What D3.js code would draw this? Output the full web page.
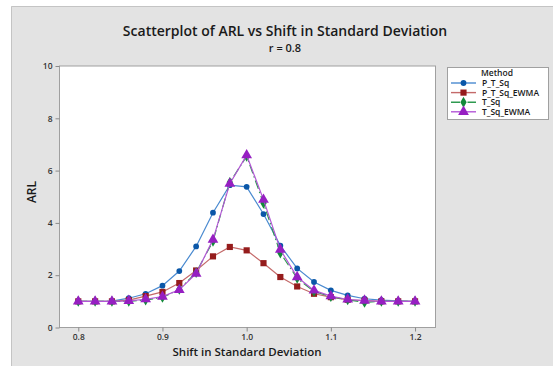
<!DOCTYPE html>
<html>
<head>
<meta charset="utf-8">
<script src="https://cdn.jsdelivr.net/npm/d3@7"></script>
<style>
  html, body { margin: 0; padding: 0; background: #ffffff; }
  svg { display: block; font-family: "Open Sans", "Noto Sans", sans-serif; }
</style>
</head>
<body>
<svg id="chart" width="553" height="366"></svg>
<script>
// Shift in standard deviation (x values)
const shifts = [0.80, 0.82, 0.84, 0.86, 0.88, 0.90, 0.92, 0.94, 0.96, 0.98, 1.00,
                1.02, 1.04, 1.06, 1.08, 1.10, 1.12, 1.14, 1.16, 1.18, 1.20];

// ARL per method
const pTSq      = [1.00, 1.00, 1.01, 1.12, 1.29, 1.60, 2.16, 3.10, 4.39, 5.44, 5.38,
                   4.34, 3.13, 2.26, 1.74, 1.42, 1.23, 1.10, 1.05, 1.02, 1.00];
const pTSqEwma  = [1.00, 1.00, 1.00, 1.05, 1.20, 1.36, 1.70, 2.18, 2.72, 3.08, 2.95,
                   2.46, 1.93, 1.57, 1.29, 1.16, 1.06, 1.03, 1.00, 1.00, 1.00];
const tSq       = [1.00, 1.00, 1.00, 1.00, 1.05, 1.15, 1.46, 2.10, 3.30, 5.55, 6.55,
                   4.75, 2.85, 1.88, 1.38, 1.18, 1.06, 0.96, 1.00, 1.00, 1.00];
const tSqEwma   = [1.00, 1.00, 1.00, 1.02, 1.08, 1.18, 1.44, 2.06, 3.36, 5.50, 6.59,
                   4.89, 2.98, 1.93, 1.42, 1.20, 1.07, 1.03, 1.00, 1.00, 1.00];

const methodNames = ["P_T_Sq", "P_T_Sq_EWMA", "T_Sq", "T_Sq_EWMA"];
const xTicks = [0.8, 0.9, 1.0, 1.1, 1.2];
const yTicks = [0, 2, 4, 6, 8, 10];

const series = [
  { name: methodNames[0], values: pTSq,     marker: "circle",   fill: "#0a57a8", line: "#4a8ad0", dash: null },
  { name: methodNames[1], values: pTSqEwma, marker: "square",   fill: "#951c1c", line: "#c46a6a", dash: null },
  { name: methodNames[2], values: tSq,      marker: "diamond",  fill: "#138a3a", line: "#2e9a50", dash: "9,3,1.5,3" },
  { name: methodNames[3], values: tSqEwma,  marker: "triangle", fill: "#961fc2", line: "#b356d6", dash: null }
];

const svg = d3.select("#chart");

// Figure panel
svg.append("rect").attr("x", 11).attr("y", 6).attr("width", 553 - 11).attr("height", 366 - 6)
  .attr("fill", "#e3e3e3");
svg.append("path").attr("d", "M11.5,366 V6.5 H553").attr("fill", "none").attr("stroke", "#c4c4c4");

// Plot region
const frame = { left: 59.5, right: 435.5, top: 66, bottom: 327.5 };
const x = d3.scaleLinear().domain([0.7777, 1.2243]).range([frame.left, frame.right]);
const y = d3.scaleLinear().domain([0, 10]).range([frame.bottom, frame.top]);

svg.append("rect")
  .attr("x", frame.left).attr("y", frame.top)
  .attr("width", frame.right - frame.left).attr("height", frame.bottom - frame.top)
  .attr("fill", "#ffffff").attr("stroke", "#a0a0a0").attr("stroke-width", 1);

// Axes
const xAxis = d3.axisBottom(x).tickValues(xTicks).tickSize(4).tickPadding(2)
  .tickFormat(d3.format(".1f"));
const gx = svg.append("g").attr("transform", `translate(0,${frame.bottom})`).call(xAxis);
const yAxis = d3.axisLeft(y).tickValues(yTicks).tickSize(4).tickPadding(3);
const gy = svg.append("g").attr("transform", `translate(${frame.left},0)`).call(yAxis);
[gx, gy].forEach(g => {
  g.select(".domain").remove();
  g.selectAll(".tick line").attr("stroke", "#8a8a8a");
  g.selectAll(".tick text").attr("fill", "#333333").attr("font-size", 8.5)
    .attr("font-weight", 600).attr("font-family", "'Open Sans', sans-serif");
});

// Titles
svg.append("text").attr("x", 285).attr("y", 36).attr("text-anchor", "middle")
  .attr("font-size", 14).attr("font-weight", 600).attr("fill", "#1a1a1a")
  .text("Scatterplot of ARL vs Shift in Standard Deviation");
svg.append("text").attr("x", 285).attr("y", 52).attr("text-anchor", "middle")
  .attr("font-size", 11).attr("font-weight", 600).attr("fill", "#1a1a1a")
  .text("r = 0.8");
svg.append("text").attr("x", 247).attr("y", 356).attr("text-anchor", "middle")
  .attr("font-size", 11.5).attr("font-weight", 600).attr("fill", "#1a1a1a")
  .text("Shift in Standard Deviation");
svg.append("text").attr("transform", "translate(36,192) rotate(-90)").attr("text-anchor", "middle")
  .attr("font-size", 12).attr("font-weight", 600).attr("fill", "#1a1a1a")
  .text("ARL");

// Marker symbols
const symbolFor = {
  circle: d3.symbol().type(d3.symbolCircle).size(26),
  square: d3.symbol().type(d3.symbolSquare).size(38),
  diamond: d3.symbol().type(d3.symbolDiamond).size(34),
  triangle: d3.symbol().type(d3.symbolTriangle).size(50)
};

const line = d3.line().x(d => x(d[0])).y(d => y(d[1]));
const plot = svg.append("g");

series.forEach(s => {
  const pts = shifts.map((v, i) => [v, s.values[i]]);
  plot.append("path").datum(pts).attr("d", line)
    .attr("fill", "none").attr("stroke", s.line).attr("stroke-width", 1.2)
    .attr("stroke-dasharray", s.dash);
  plot.selectAll(null).data(pts).enter().append("path")
    .attr("d", symbolFor[s.marker])
    .attr("transform", d => `translate(${x(d[0])},${y(d[1])})`)
    .attr("fill", s.fill);
});

// Legend
const lg = svg.append("g");
lg.append("rect").attr("x", 447.5).attr("y", 67.5).attr("width", 101).attr("height", 52)
  .attr("fill", "#ffffff").attr("stroke", "#a0a0a0");
lg.append("text").attr("x", 497).attr("y", 75.5).attr("text-anchor", "middle")
  .attr("font-size", 8.5).attr("font-weight", 600).attr("fill", "#1a1a1a").text("Method");
series.forEach((s, i) => {
  const ly = 83 + i * 9.6;
  lg.append("line").attr("x1", 451).attr("x2", 476).attr("y1", ly).attr("y2", ly)
    .attr("stroke", s.line).attr("stroke-width", 1.4).attr("stroke-dasharray", s.dash);
  lg.append("path").attr("d", symbolFor[s.marker]).attr("transform", `translate(463.5,${ly})`)
    .attr("fill", s.fill);
  lg.append("text").attr("x", 482).attr("y", ly + 3).attr("font-size", 8.5)
    .attr("font-weight", 600).attr("fill", "#1a1a1a").text(s.name);
});
</script>
</body>
</html>
